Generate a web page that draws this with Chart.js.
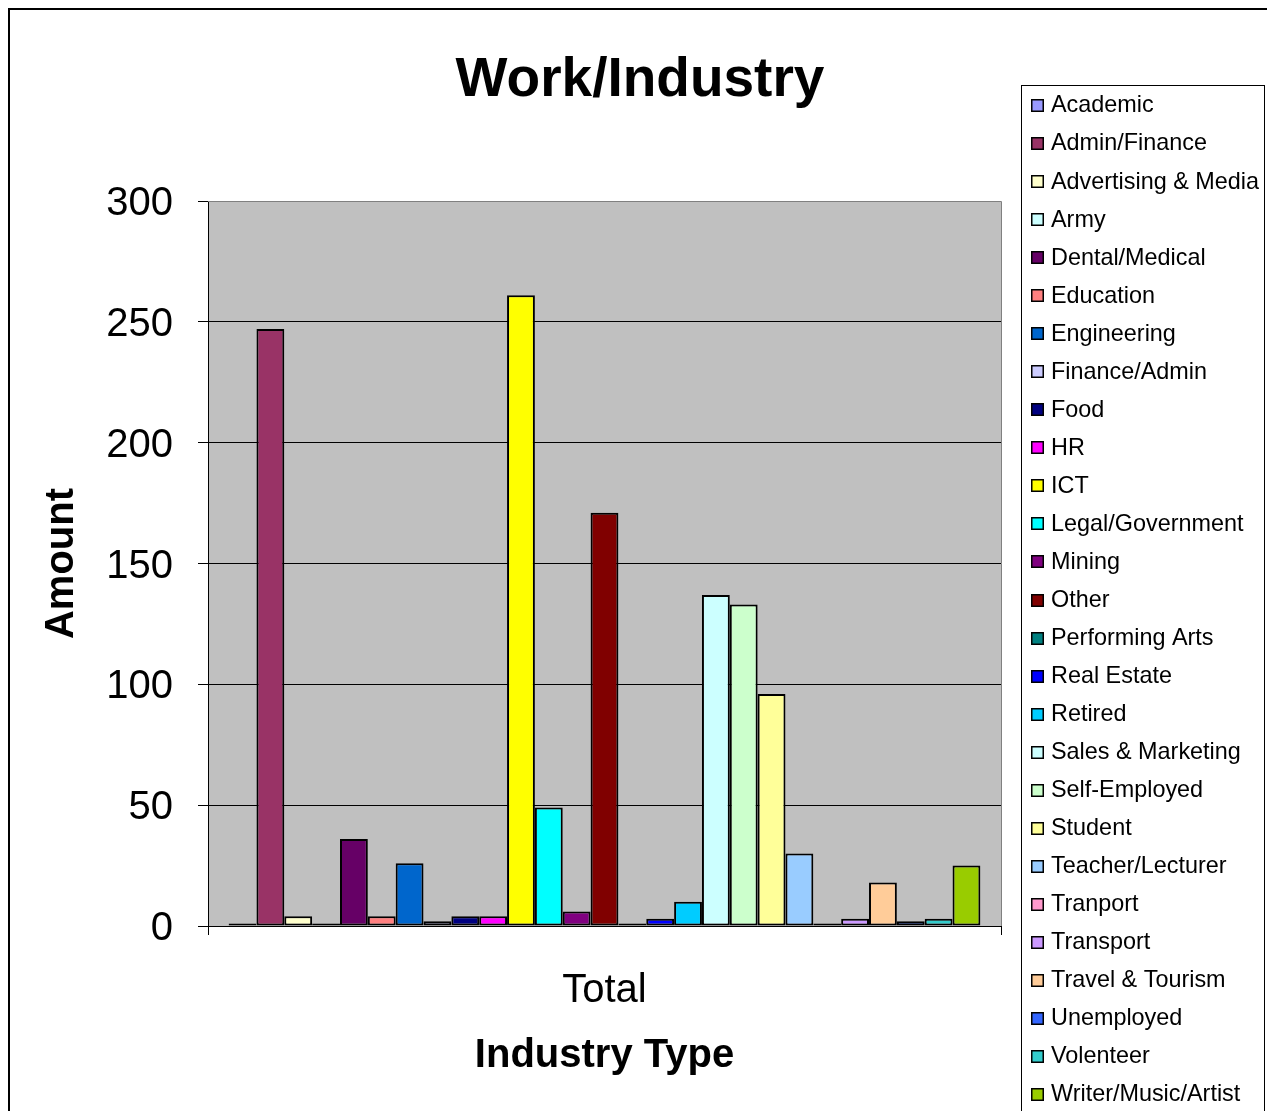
<!DOCTYPE html>
<html>
<head>
<meta charset="utf-8">
<script src="https://cdn.jsdelivr.net/npm/chart.js@4"></script>
<style>
  body { margin: 0; background: #fff; }
  canvas { display: block; }
</style>
</head>
<body>
<canvas id="barChart" width="1267" height="1111"></canvas>
<script>
const categories = ['Total'];
const industries = [
    'Academic', 'Admin/Finance', 'Advertising & Media', 'Army', 'Dental/Medical',
    'Education', 'Engineering', 'Finance/Admin', 'Food', 'HR', 'ICT',
    'Legal/Government', 'Mining', 'Other', 'Performing Arts', 'Real Estate',
    'Retired', 'Sales & Marketing', 'Self-Employed', 'Student', 'Teacher/Lecturer',
    'Tranport', 'Transport', 'Travel & Tourism', 'Unemployed', 'Volenteer',
    'Writer/Music/Artist'
];
const amounts = [1, 247, 4, 1, 36, 4, 26, 2, 4, 4, 261, 49, 6, 171, 1, 3, 10, 137, 133, 96, 30, 1, 3, 18, 2, 3, 25];
const colors = [
    '#9999FF', '#993366', '#FFFFCC', '#CCFFFF', '#660066', '#FF8080', '#0066CC',
    '#CCCCFF', '#000080', '#FF00FF', '#FFFF00', '#00FFFF', '#800080', '#800000',
    '#008080', '#0000FF', '#00CCFF', '#CCFFFF', '#CCFFCC', '#FFFF99', '#99CCFF',
    '#FF99CC', '#CC99FF', '#FFCC99', '#3366FF', '#33CCCC', '#99CC00'
];
const yTicks = [0, 50, 100, 150, 200, 250, 300];

const fontFamily = '"Liberation Sans", Arial, sans-serif';

// grey plot background, outer frame, title and the boxed legend
const decorations = {
    id: 'decorations',
    beforeDraw(chart) {
        const { ctx, chartArea: a } = chart;
        ctx.save();
        ctx.fillStyle = '#C0C0C0';
        ctx.fillRect(a.left, a.top, a.right - a.left, a.bottom - a.top);
        ctx.restore();
    },
    afterDraw(chart) {
        const { ctx, chartArea: a } = chart;
        ctx.save();
        // plot area border (top / right)
        ctx.strokeStyle = '#808080';
        ctx.lineWidth = 1;
        ctx.beginPath();
        ctx.moveTo(a.left, a.top + 0.5);
        ctx.lineTo(a.right + 0.5, a.top + 0.5);
        ctx.lineTo(a.right + 0.5, a.bottom);
        ctx.stroke();

        // outer frame
        ctx.strokeStyle = '#000';
        ctx.lineWidth = 2;
        ctx.strokeRect(9, 9, 1300, 1200);

        // title
        ctx.fillStyle = '#000';
        ctx.font = 'bold 55px ' + fontFamily;
        ctx.textAlign = 'center';
        ctx.textBaseline = 'middle';
        ctx.fillText('Work/Industry', 640, 81);

        // legend
        ctx.lineWidth = 1;
        ctx.strokeStyle = '#000';
        ctx.strokeRect(1021.5, 85.5, 243, 1100);
        ctx.font = '23.4px ' + fontFamily;
        ctx.textAlign = 'left';
        chart.data.datasets.forEach((ds, i) => {
            const y = 105 + i * 38.04;
            const top = Math.round(y) - 6;
            ctx.fillStyle = ds.backgroundColor;
            ctx.fillRect(1031, top, 13, 13);
            ctx.lineWidth = 1.5;
            ctx.strokeRect(1031.75, top + 0.75, 11.5, 11.5);
            ctx.fillStyle = '#000';
            ctx.fillText(ds.label, 1051, y + 1);
        });
        ctx.restore();
    }
};

const datasets = industries.map((name, i) => ({
    label: name,
    data: [amounts[i]],
    backgroundColor: colors[i],
    borderColor: '#000',
    borderWidth: 2,
    borderSkipped: false,
    barPercentage: 1,
    categoryPercentage: 0.948
}));

const ctx = document.getElementById('barChart').getContext('2d');
const barChart = new Chart(ctx, {
    type: 'bar',
    data: {
        labels: categories,
        datasets: datasets
    },
    plugins: [decorations],
    options: {
        responsive: false,
        animation: false,
        layout: {
            padding: { left: 0, top: 201, right: 266, bottom: 0 }
        },
        plugins: {
            legend: { display: false },
            title: { display: false },
            tooltip: { enabled: false }
        },
        scales: {
            x: {
                afterFit: scale => { scale.height = 185; },
                grid: {
                    drawOnChartArea: false,
                    color: '#000',
                    tickLength: 9
                },
                border: { color: '#000', width: 1 },
                ticks: {
                    color: '#000',
                    padding: 32,
                    font: { family: fontFamily, size: 40 }
                },
                title: {
                    display: true,
                    text: 'Industry Type',
                    color: '#000',
                    padding: { top: 0, bottom: 31 },
                    font: { family: fontFamily, size: 40, weight: 'bold' }
                }
            },
            y: {
                min: 0,
                max: 300,
                afterFit: scale => { scale.width = 208; },
                afterBuildTicks: scale => {
                    scale.ticks = yTicks.map(v => ({ value: v }));
                },
                grid: {
                    color: c => (c.tick && c.tick.value === 300 ? '#808080' : '#000'),
                    tickColor: '#000',
                    tickLength: 10
                },
                border: { color: '#000', width: 1 },
                ticks: {
                    color: '#000',
                    padding: 25,
                    labelOffset: 3,
                    font: { family: fontFamily, size: 40 }
                },
                title: {
                    display: true,
                    text: 'Amount',
                    color: '#000',
                    padding: { top: 38, bottom: 0 },
                    font: { family: fontFamily, size: 40, weight: 'bold' }
                }
            }
        }
    }
});
</script>
</body>
</html>
